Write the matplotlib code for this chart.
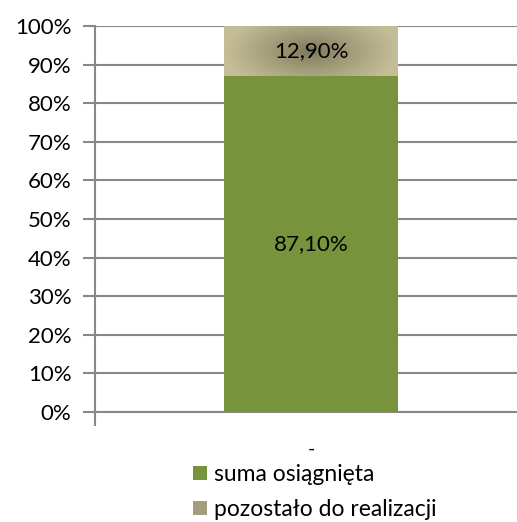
import numpy as np
import matplotlib
matplotlib.use("Agg")
import matplotlib.pyplot as plt
from matplotlib.patches import Rectangle, Patch
from matplotlib.colors import LinearSegmentedColormap

plt.rcParams['font.family'] = ['Lato', 'DejaVu Sans']

# data
categories = ['-']
series_names = ['suma osiągnięta', 'pozostało do realizacji']
achieved = [87.10]
remaining = [12.90]
yticks = list(range(0, 101, 10))

green = '#77933C'
tan_edge = '#C4BD97'
tan_mid = '#7A7558'
grid_c = '#888888'

fig = plt.figure(figsize=(5.17, 5.22), dpi=100)
ax = fig.add_axes([95/517, 110/522, 422/517, 386/522])

x = np.arange(len(categories))
w = 0.412
ax.bar(x, achieved, width=w, color=green, zorder=3)
top = ax.bar(x, remaining, width=w, bottom=achieved, color='none', zorder=3)

# radial-ish gradient fill for the top segment
cmap = LinearSegmentedColormap.from_list('tan', [tan_mid, tan_edge])
for r in top.patches:
    x0, y0 = r.get_x(), r.get_y()
    ww, hh = r.get_width(), r.get_height()
    gx, gy = np.meshgrid(np.linspace(-1, 1, 200), np.linspace(-1, 1, 60))
    d = np.clip(np.sqrt(gx**2 + (gy*0.6)**2), 0, 1) ** 0.8
    im = ax.imshow(d, cmap=cmap, extent=[x0, x0+ww, y0, y0+hh],
                   aspect='auto', zorder=3, vmin=0, vmax=1)
    clip = Rectangle((x0, y0), ww, hh, transform=ax.transData)
    im.set_clip_path(clip)

for i in range(len(categories)):
    ax.text(x[i], achieved[i]/2, f'{achieved[i]:.2f}%'.replace('.', ','),
            ha='center', va='center', fontsize=16, zorder=4)
    ax.text(x[i], achieved[i] + remaining[i]/2, f'{remaining[i]:.2f}%'.replace('.', ','),
            ha='center', va='center', fontsize=16, zorder=4)

ax.set_xlim(-0.512, 0.488)
ax.set_ylim(0, 100)
ax.set_yticks(yticks)
ax.set_yticklabels([f'{t}%' for t in yticks], fontsize=16)
ax.yaxis.grid(True, color=grid_c, linewidth=1.5)
ax.set_axisbelow(True)
ax.tick_params(axis='y', length=9, width=1.5, color=grid_c, pad=8)

ax.set_xticks(x)
ax.set_xticklabels(categories, fontsize=14)
ax.tick_params(axis='x', length=0, pad=21)
ax.set_xticks([-0.512], minor=True)
ax.tick_params(axis='x', which='minor', length=10, width=1.5, color=grid_c)

for s in ['top', 'right']:
    ax.spines[s].set_visible(False)
for s in ['left', 'bottom']:
    ax.spines[s].set_color(grid_c)
    ax.spines[s].set_linewidth(1.5)

handles = [Patch(facecolor=green), Patch(facecolor='#A39D7C')]
fig.legend(handles, series_names, loc='upper left', bbox_to_anchor=(184/517, 1 - 455/522),
           frameon=False, fontsize=16.5, handlelength=0.6, handleheight=0.6,
           handletextpad=0.3, labelspacing=0.6, borderaxespad=0)

fig.savefig('out.png', dpi=100)
